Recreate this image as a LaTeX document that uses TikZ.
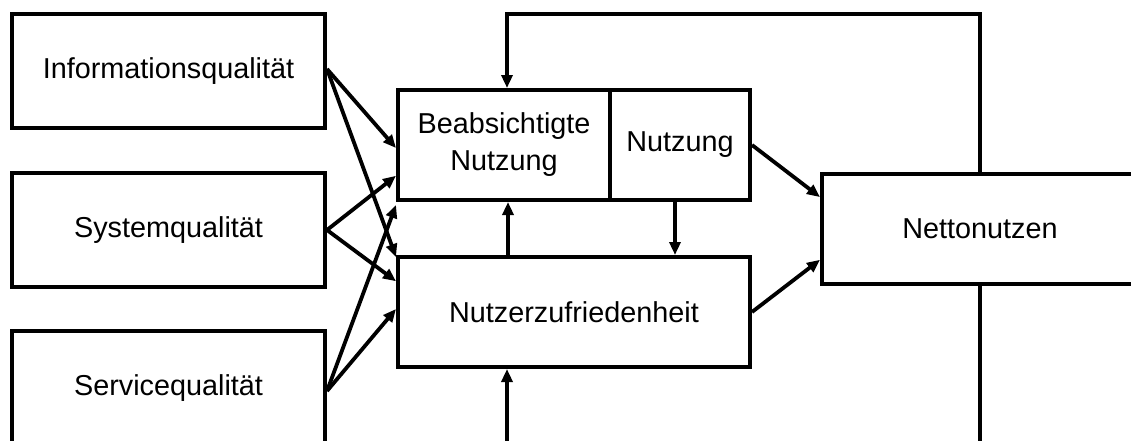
\documentclass[tikz,border=0pt]{standalone}
\usepackage{fontspec}
\setmainfont{Liberation Sans}
\usetikzlibrary{arrows.meta,calc}
\begin{document}
\begin{tikzpicture}[x=1pt,y=-1pt,
  box/.style={draw=black,line width=4pt,inner sep=0pt,align=center,
    font=\fontsize{28.8}{37}\selectfont},
  arr/.style={line width=3.8pt,-{Triangle[length=13pt,width=11pt]}}]
\useasboundingbox (0,0) rectangle (1131,440);
\clip (0,0) rectangle (1131,440);
\fill[white] (0,0) rectangle (1131,440);
\node[box,minimum width=313pt,minimum height=114pt] (info) at (168.5,71) {Informationsqualität};
\node[box,minimum width=313pt,minimum height=114pt] (sys) at (168.5,230) {Systemqualität};
\node[box,minimum width=313pt,minimum height=114pt] (serv) at (168.5,388) {Servicequalität};
\node[box,minimum width=212pt,minimum height=110pt] (bn) at (504,145) {Beabsichtigte\\Nutzung};
\node[box,minimum width=140pt,minimum height=110pt] (nu) at (680,145) {Nutzung};
\node[box,minimum width=352pt,minimum height=110pt] (nz) at (574,312) {Nutzerzufriedenheit};
\node[box,minimum width=316pt,minimum height=110pt] (nn) at (980,229) {Nettonutzen};
\coordinate (top) at (0,14);
\coordinate (bottom) at (0,470);
% from left boxes
\draw[arr] ([yshift=2pt]info.east) -- ([yshift=-3pt]bn.west);
\draw[arr] ([yshift=2pt]info.east) -- ([yshift=-2pt]nz.north west);
\draw[arr] (sys.east) -- ($(bn.south west)!0.23!(bn.north west)$);
\draw[arr] (sys.east) -- ($(nz.north west)!0.23!(nz.south west)$);
\draw[arr] ([yshift=-3pt]serv.east) -- ([yshift=-3pt]bn.south west);
\draw[arr] ([yshift=-3pt]serv.east) -- ([yshift=3pt]nz.west);
% internal
\draw[arr] ([xshift=112pt]nz.north west) -- ([xshift=112pt]bn.south west);
\draw[arr] ([xshift=-5pt]nu.south) -- ([xshift=-5pt]nu.south |- nz.north);
% to Nettonutzen
\draw[arr] (nu.east) -- ($(nn.north west)!0.22!(nn.south west)$);
\draw[arr] (nz.east) -- ($(nn.north west)!0.77!(nn.south west)$);
% feedback loops
\draw[arr] (nn.north) -- (nn.north |- top) -| ([xshift=111pt]bn.north west);
\draw[arr] (nn.south) -- (nn.south |- bottom) -| ([xshift=111pt]nz.south west);
\end{tikzpicture}
\end{document}
